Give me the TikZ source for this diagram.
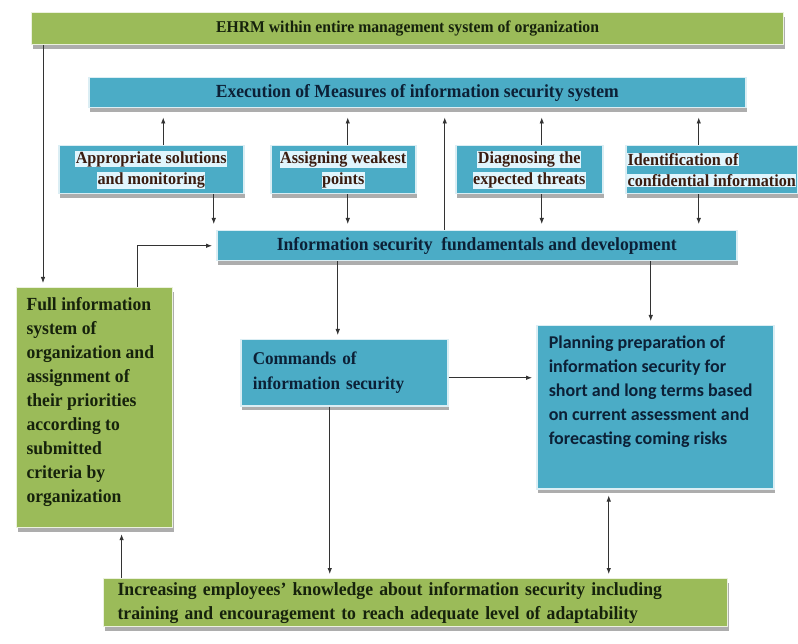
\documentclass[tikz,border=0pt]{standalone}
\usepackage{fontspec}
\setmainfont{Liberation Serif}[FakeStretch=0.95]
\newfontfamily\calibrifont{Carlito}
\usetikzlibrary{shadows,arrows.meta}

\definecolor{boxgreen}{HTML}{9BBB59}
\definecolor{boxblue}{HTML}{4BACC6}
\definecolor{greentext}{HTML}{16220C}
\definecolor{bluetext}{HTML}{0C2036}
\definecolor{browntext}{HTML}{3A1C10}
\newcommand{\hlt}[1]{{\setlength{\fboxsep}{0.6pt}\colorbox{white!88!cyan}{#1}}}

\begin{document}
\begin{tikzpicture}[x=1pt, y=-1pt,
  every node/.style = {shape=rectangle, anchor=north west, font=\bfseries},
  greenbox/.style = {fill=boxgreen, draw=white!80!boxgreen, line width=1.2pt,
    drop shadow={shadow xshift=1.5pt, shadow yshift=-4pt, fill=black!40, opacity=.8},
    text=greentext},
  bluebox/.style = {fill=boxblue, draw=white!80!boxblue, line width=1.5pt,
    drop shadow={shadow xshift=1.5pt, shadow yshift=-4pt, fill=black!40, opacity=.8},
    text=bluetext},
  smallbox/.style = {bluebox, minimum height=48, inner xsep=1pt, align=center,
    text=browntext, font=\fontsize{17}{21}\selectfont\bfseries},
  arr/.style = {-{Latex[length=6pt,width=4.5pt]}, line width=0.8pt, black!80, shorten >=4pt}]

  \fill[white] (0,0) rectangle (798,644);
  \useasboundingbox (0,0) rectangle (798,644);

  % top rows
  \node[greenbox, minimum width=752, minimum height=32,
    font=\fontsize{16.5}{20}\selectfont\bfseries] (ehrm) at (31,12)
    {EHRM within entire management system of organization};
  \node[bluebox, minimum width=657, minimum height=30,
    font=\fontsize{18.5}{22}\selectfont\bfseries] (exec) at (88,77)
    {Execution of Measures of information security system};

  \node[smallbox, minimum width=185] (sol) at (58,145)
    {\hlt{Appropriate solutions}\\\hlt{and monitoring}};
  \node[smallbox, minimum width=145] (weak) at (270,145)
    {\hlt{Assigning weakest}\\\hlt{points}};
  \node[smallbox, minimum width=147] (threat) at (455,145)
    {\hlt{Diagnosing the}\\\hlt{expected threats}};
  \node[smallbox, minimum width=172, align=left] (conf) at (625,145)
    {\hlt{Identification of}\\\hlt{confidential information}};

  \node[bluebox, minimum width=520, minimum height=30,
    font=\fontsize{18.5}{22}\selectfont\bfseries] (fund) at (216,230)
    {Information security\ \ fundamentals and development};

  % middle
  \node[greenbox, inner sep=10pt, font=\fontsize{18.5}{24}\selectfont\bfseries] (full) at (16,287)
    {\parbox[t][220pt][t]{136pt}{\raggedright Full information\\ system of\\ organization and\\
      assignment of\\ their priorities\\ according to\\ submitted\\ criteria by\\ organization}};
  \node[bluebox, minimum width=207, minimum height=66, inner xsep=12pt, text width=183,
    align=left, font=\fontsize{18}{25}\selectfont\bfseries] (cmd) at (240,339)
    {Commands of\\ information security};
  \node[bluebox, inner sep=10pt, inner xsep=12pt,
    font=\calibrifont\fontsize{18}{24}\selectfont\bfseries] (plan) at (536,325)
    {\parbox[t][143pt][t]{213pt}{\raggedright Planning preparation of\\ information security for\\
      short and long terms based\\ on current assessment and\\ forecasting coming risks}};

  \node[greenbox, minimum width=624, minimum height=48, inner xsep=14pt, text width=596,
    align=left, font=\fontsize{18.6}{24}\selectfont\bfseries] (incr) at (103,578)
    {Increasing employees' knowledge about information security including\\
     training and encouragement to reach adequate level of adaptability};

  % connectors
  \draw[arr, shorten >=9pt] ([xshift=12]sol.north) -- ([xshift=12]sol.north |- exec.south);
  \draw[arr, shorten >=9pt] ([xshift=4.5]weak.north) -- ([xshift=4.5]weak.north |- exec.south);
  \draw[arr, shorten >=9pt] ([xshift=12.5]threat.north) -- ([xshift=12.5]threat.north |- exec.south);
  \draw[arr, shorten >=9pt] ([xshift=-13]conf.north) -- ([xshift=-13]conf.north |- exec.south);
  \draw[arr, shorten >=9pt] ([xshift=-32]fund.north) -- ([xshift=-32]fund.north |- exec.south);

  \draw[arr, shorten >=6pt] ([xshift=62.5]sol.south) -- ([xshift=62.5]sol.south |- fund.north);
  \draw[arr, shorten >=6pt] ([xshift=4.5]weak.south) -- ([xshift=4.5]weak.south |- fund.north);
  \draw[arr, shorten >=6pt] ([xshift=12.5]threat.south) -- ([xshift=12.5]threat.south |- fund.north);
  \draw[arr, shorten >=6pt] ([xshift=-13]conf.south) -- ([xshift=-13]conf.south |- fund.north);

  \draw[arr] ([xshift=12]ehrm.south west) -- ([xshift=12]ehrm.south west |- full.north);
  \draw[arr] ([xshift=43]full.north) |- (fund.west);
  \draw[arr] ([xshift=-6.5]cmd.north |- fund.south) -- ([xshift=-6.5]cmd.north);
  \draw[arr] ([xshift=-4.5]plan.north |- fund.south) -- ([xshift=-4.5]plan.north);
  \draw[arr] ([yshift=-5]cmd.east) -- ([yshift=-5]cmd.east -| plan.west);
  \draw[arr] ([xshift=-14.5]cmd.south) -- ([xshift=-14.5]cmd.south |- incr.north);
  \draw[arr, {Latex[length=6pt,width=4.5pt]}-{Latex[length=6pt,width=4.5pt]}, shorten <=6pt]
    ([xshift=-46.5]plan.south) -- ([xshift=-46.5]plan.south |- incr.north);
  \draw[arr, shorten >=6pt] ([xshift=27]full.south |- incr.north) -- ([xshift=27]full.south);
\end{tikzpicture}
\end{document}
